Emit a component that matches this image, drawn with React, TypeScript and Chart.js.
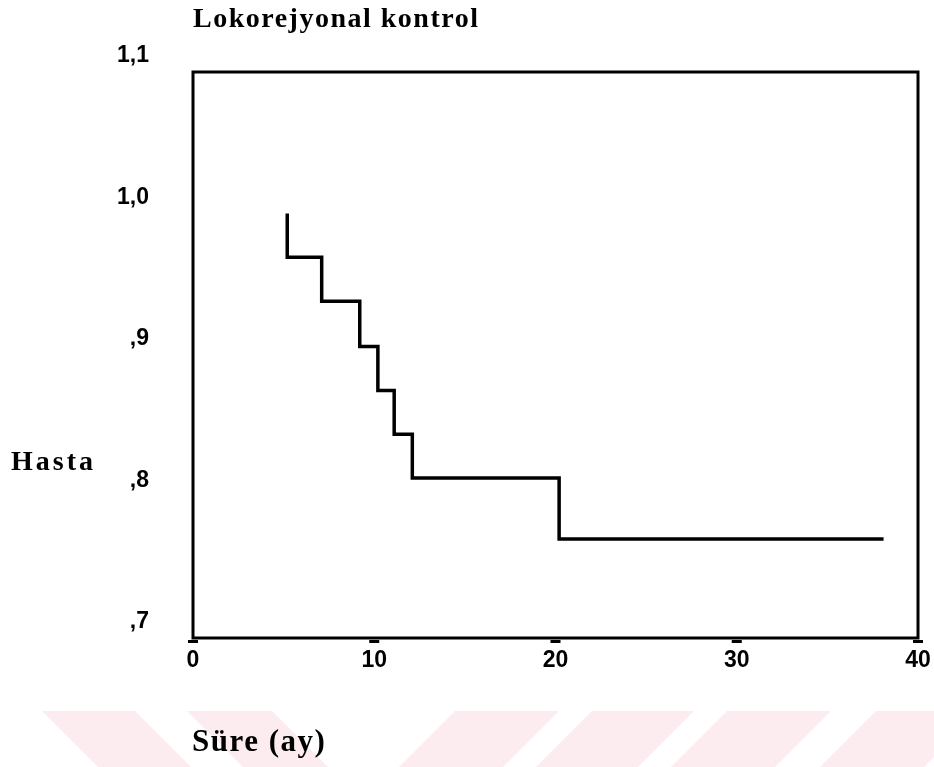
import React, { useEffect, useRef } from 'react';
import { Chart, registerables } from 'chart.js';

Chart.register(...registerables);

const TITLE = 'Lokorejyonal kontrol';
const X_TITLE = 'Süre (ay)';
const Y_TITLE = 'Hasta';

// Kaplan-Meier step points (time in months, cumulative proportion)
const timeMonths = [5.2, 5.2, 7.1, 9.2, 10.2, 11.1, 12.1, 20.2, 38.1];
const survival = [1.0, 0.969, 0.938, 0.906, 0.875, 0.844, 0.813, 0.77, 0.77];

const xTickValues = [0, 10, 20, 30, 40];
const yTickLabels = [',7', ',8', ',9', '1,0', '1,1'];

const W = 934;
const H = 767;

const decorPlugin = {
  id: 'decor',
  beforeDraw(chart: any) {
    const ctx = chart.ctx;
    ctx.save();
    ctx.fillStyle = '#ffffff';
    ctx.fillRect(0, 0, chart.width, chart.height);
    // faint watermark bands at the bottom of the page
    ctx.fillStyle = '#fdecef';
    const top = 711;
    const bot = chart.height;
    const h = bot - top;
    const bands: [number, number, number][] = [
      [42, 93, 1],
      [187, 85, 1],
      [455, 104, -1],
      [592, 102, -1],
      [727, 104, -1],
      [876, 104, -1],
    ];
    for (const [x, w, dir] of bands) {
      ctx.beginPath();
      ctx.moveTo(x, top);
      ctx.lineTo(x + w, top);
      ctx.lineTo(x + w + dir * h, bot);
      ctx.lineTo(x + dir * h, bot);
      ctx.closePath();
      ctx.fill();
    }
    ctx.restore();
  },
  afterDraw(chart: any) {
    const ctx = chart.ctx;
    const a = chart.chartArea;
    const xs = chart.scales.x;
    ctx.save();
    ctx.strokeStyle = '#000';
    ctx.lineWidth = 3;
    ctx.strokeRect(a.left, a.top, a.right - a.left, a.bottom - a.top);
    ctx.fillStyle = '#000';
    xs.ticks.forEach((t: any) => {
      const px = xs.getPixelForValue(t.value);
      ctx.fillRect(px - 5, a.bottom + 2, 10, 3);
    });
    ctx.textAlign = 'left';
    ctx.textBaseline = 'alphabetic';
    ctx.font = 'bold 28px "Liberation Serif", "Times New Roman", serif';
    (ctx as any).letterSpacing = '1.5px';
    ctx.fillText(TITLE, a.left, 27);
    ctx.font = 'bold 28px "Liberation Serif", "Times New Roman", serif';
    (ctx as any).letterSpacing = '3px';
    ctx.fillText(Y_TITLE, 11, 470);
    ctx.font = 'bold 31px "Liberation Serif", "Times New Roman", serif';
    (ctx as any).letterSpacing = '1.5px';
    ctx.fillText(X_TITLE, a.left - 1, 751);
    (ctx as any).letterSpacing = '0px';
    ctx.restore();
  },
};

export default function App() {
  const ref = useRef<HTMLCanvasElement | null>(null);
  useEffect(() => {
    if (!ref.current) return;
    const points = timeMonths.map((t, i) => ({ x: t, y: survival[i] }));
    const chart = new Chart(ref.current, {
      type: 'line',
      data: {
        datasets: [
          {
            label: 'Lokorejyonal kontrol',
            data: points,
            stepped: 'before',
            borderColor: '#000',
            borderWidth: 3.5,
            pointRadius: 0,
            fill: false,
            borderJoinStyle: 'miter',
          } as any,
        ],
      },
      options: {
        responsive: false,
        devicePixelRatio: 1,
        animation: false,
        layout: { padding: { left: 0, right: 16, top: 72, bottom: 0 } },
        plugins: {
          legend: { display: false },
          title: { display: false },
          tooltip: { enabled: false },
        },
        scales: {
          x: {
            type: 'linear',
            min: 0,
            max: 40,
            afterFit: (s: any) => {
              s.height = H - 638;
              s.paddingLeft = 0;
              s.paddingRight = 0;
            },
            afterBuildTicks: (s: any) => {
              s.ticks = xTickValues.map((v) => ({ value: v }));
            },
            grid: { display: false, drawTicks: false },
            border: { display: false },
            ticks: {
              color: '#000',
              padding: 9,
              maxRotation: 0,
              font: { family: '"Liberation Sans", Arial, sans-serif', size: 23, weight: 'bold' },
              callback: (v: any) => String(v),
            },
          },
          y: {
            type: 'linear',
            min: 0.7,
            max: 1.1,
            afterFit: (s: any) => {
              s.width = 193;
              s.paddingTop = 0;
              s.paddingBottom = 0;
            },
            grid: { display: false, drawTicks: false },
            border: { display: false },
            ticks: {
              stepSize: 0.1,
              color: '#000',
              padding: 44,
              labelOffset: -16,
              font: { family: '"Liberation Sans", Arial, sans-serif', size: 23, weight: 'bold' },
              callback: (v: any) => {
                const i = Math.round((Number(v) - 0.7) * 10);
                return yTickLabels[i] ?? '';
              },
            },
          },
        },
      },
      plugins: [decorPlugin],
    });
    return () => chart.destroy();
  }, []);
  return (
    <div style={{ position: 'fixed', left: 0, top: 0, width: W, height: H }}>
      <canvas ref={ref} width={W} height={H} style={{ display: 'block' }} />
    </div>
  );
}
